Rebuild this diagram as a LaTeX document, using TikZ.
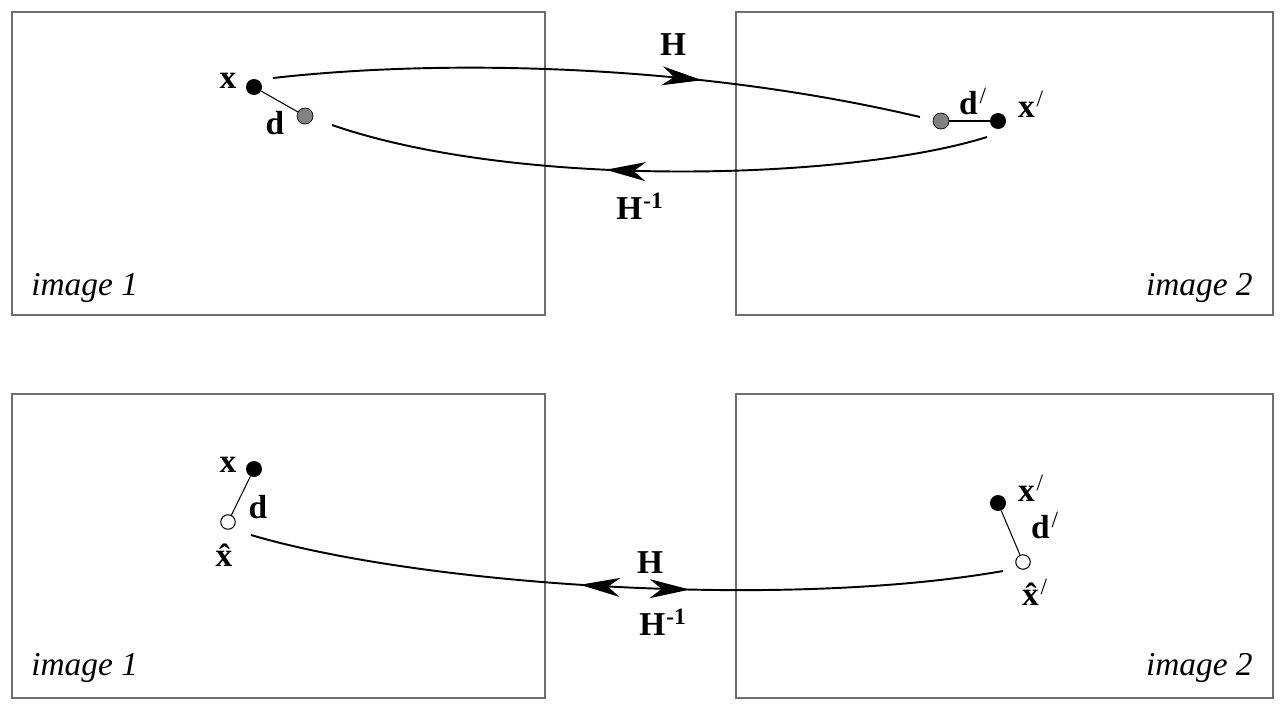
\documentclass[tikz,border=0pt]{standalone}
\usepackage{fontspec}
\setmainfont{Liberation Serif}
\usetikzlibrary{arrows.meta,decorations.markings}
\definecolor{FrameGray}{RGB}{110,110,110}
\definecolor{DotGray}{RGB}{130,130,130}
\newcommand\labelsize{\fontsize{19}{23}\selectfont}
\newcommand\primemark{\textsuperscript{\kern0.08em\mdseries /}}
\newcommand\invmark{\textsuperscript{\kern0.05em-1}}
\newcommand\hatx{x\char"0302\relax}

\tikzset{
  frame/.style={draw=FrameGray,line width=0.6pt},
  ptblack/.style={circle,fill=black,inner sep=0pt,minimum size=0.32cm},
  ptgray/.style={circle,draw=black,line width=0.4pt,fill=DotGray,inner sep=0pt,minimum size=0.32cm},
  ptopen/.style={circle,draw=black,line width=0.6pt,fill=white,inner sep=0pt,minimum size=0.29cm},
  lbl/.style={font=\labelsize\bfseries,inner sep=0pt},
  tag/.style={font=\labelsize\itshape,inner sep=0pt},
  link/.style={line width=0.6pt},
  map/.style={line width=1.1pt},
  bigtip/.tip={Stealth[length=0.8cm,width=0.38cm,inset=0.24cm]},
  tipat/.style={postaction={decorate,decoration={markings,
    mark=at position #1 with {\arrow{bigtip}}}}},
  tipback/.style={postaction={decorate,decoration={markings,
    mark=at position #1 with {\arrowreversed{bigtip}}}}}
}

\begin{document}
\begin{tikzpicture}[x=0.02cm,y=-0.02cm]
  \useasboundingbox (0,0) rectangle (1280,714);
  % frames
  \draw[frame] (12,12) rectangle (545,315);
  \draw[frame] (736,12) rectangle (1273,315);
  \draw[frame] (12,394) rectangle (545,698);
  \draw[frame] (736,394) rectangle (1273,698);
  \node[tag,anchor=west] (tag1) at (31,288) {image 1};
  \node[tag,anchor=east] (tag2) at (1253,288) {image 2};
  \node[tag,anchor=west] (tag3) at (31,668) {image 1};
  \node[tag,anchor=east] (tag4) at (1253,668) {image 2};

  % top: transfer error
  \node[ptblack] (x1) at (254,87) {};
  \node[ptgray] (d1) at (305,116) {};
  \draw[link] (x1) -- (d1);
  \node[lbl] (x1l) at (228,81) {x};
  \node[lbl] (d1l) at (275,123) {d};
  \node[ptgray] (d2) at (941,121) {};
  \node[ptblack] (x2) at (998,121) {};
  \draw[link] (d2) -- (x2);
  \node[lbl] (d2l) at (973,101) {d\primemark};
  \node[lbl] (x2l) at (1031,104) {x\primemark};

  \coordinate (fwdS) at (273,78);
  \coordinate (fwdE) at (920,117);
  \draw[map,tipat=0.66] (fwdS) .. controls (450,58) and (700,65) .. (fwdE);
  \node[lbl] (Hf) at (673,45) {H};
  \coordinate (bwdS) at (987,137);
  \coordinate (bwdE) at (332,125);
  \draw[map,tipat=0.58] (bwdS) .. controls (850,180) and (520,190) .. (bwdE);
  \node[lbl] (Hb) at (640,206) {H\invmark};

  % bottom: reprojection error
  \node[ptblack] (x3) at (254,469) {};
  \node[ptopen] (h3) at (228,522) {};
  \draw[link] (x3) -- (h3);
  \node[lbl] (x3l) at (228,465) {x};
  \node[lbl] (d3l) at (258,507) {d};
  \node[lbl] (h3l) at (224,555) {\hatx};
  \node[ptblack] (x4) at (998,503) {};
  \node[ptopen] (h4) at (1023,562) {};
  \draw[link] (x4) -- (h4);
  \node[lbl] (x4l) at (1031,488) {x\primemark};
  \node[lbl] (d4l) at (1045,525) {d\primemark};
  \node[lbl] (h4l) at (1035,592) {\hatx\primemark};

  \coordinate (bothS) at (251,535);
  \coordinate (bothE) at (1003,571);
  \draw[map,tipback=0.44,tipat=0.585] (bothS) .. controls (420,585) and (780,610) .. (bothE);
  \node[lbl] (Hu) at (650,563) {H};
  \node[lbl] (Hd) at (663,622) {H\invmark};
\end{tikzpicture}
\end{document}
